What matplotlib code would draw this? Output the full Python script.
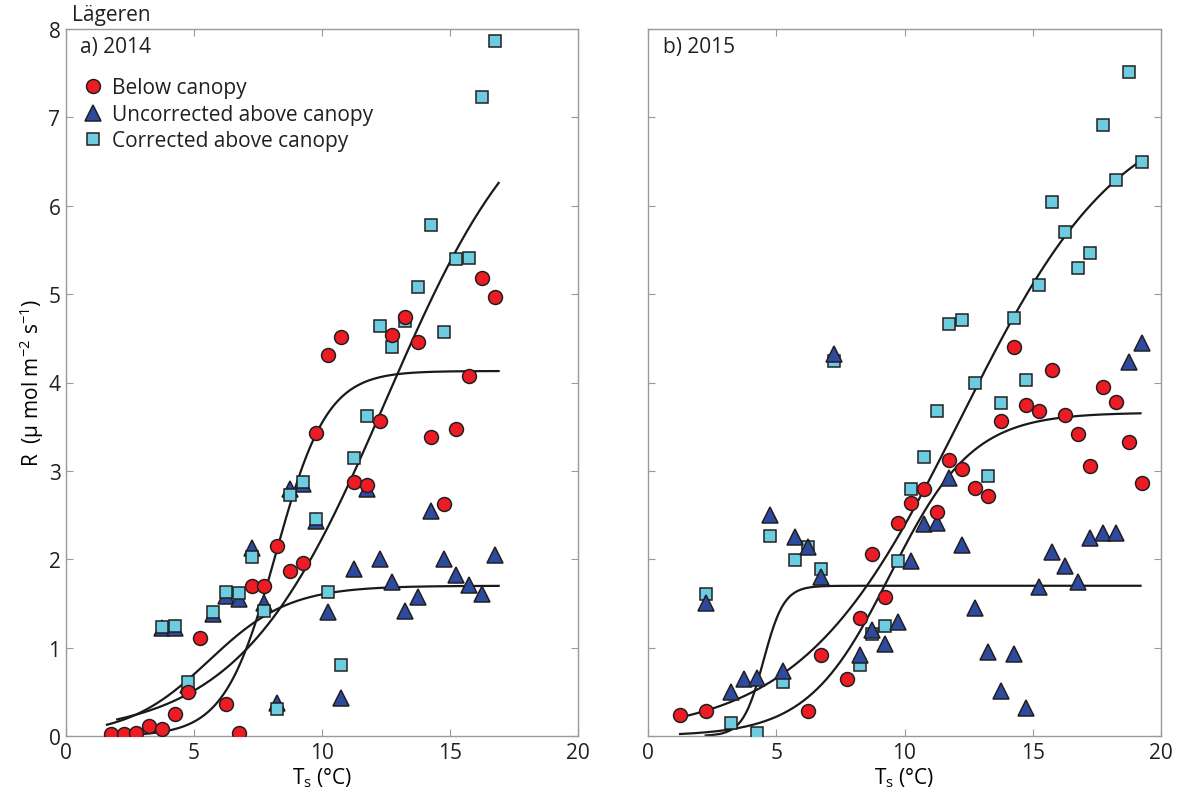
import numpy as np
import matplotlib
matplotlib.use("Agg")
import matplotlib.pyplot as plt

plt.rcParams['font.family'] = ['Open Sans', 'DejaVu Sans']
plt.rcParams['mathtext.fontset'] = 'custom'
plt.rcParams['mathtext.rm'] = 'Open Sans'
plt.rcParams['mathtext.it'] = 'Open Sans'
plt.rcParams['text.color'] = '#231f20'

# 2014 soil respiration vs soil temperature
t14_below = [1.75, 2.25, 2.75, 3.25, 3.75, 4.25, 4.75, 5.25, 6.25, 6.75, 7.25, 7.75, 8.25, 8.75, 9.25,
             9.75, 10.25, 10.75, 11.25, 11.75, 12.25, 12.75, 13.25, 13.75, 14.25, 14.75, 15.25, 15.75,
             16.25, 16.75]
r14_below = [0.02, 0.02, 0.03, 0.11, 0.08, 0.25, 0.50, 1.11, 0.36, 0.03, 1.70, 1.70, 2.15, 1.87, 1.96,
             3.43, 4.31, 4.51, 2.87, 2.84, 3.57, 4.54, 4.74, 4.46, 3.38, 2.63, 3.47, 4.07, 5.18, 4.97]

t14_above = [3.75, 4.25, 4.75, 5.75, 6.25, 6.75, 7.25, 7.75, 8.25, 8.75, 9.25, 9.75, 10.25, 10.75,
             11.25, 11.75, 12.25, 12.75, 13.25, 13.75, 14.25, 14.75, 15.25, 15.75, 16.25, 16.75]
r14_uncorr = [1.22, 1.22, 0.58, 1.38, 1.58, 1.55, 2.13, 1.50, 0.37, 2.80, 2.85, 2.43, 1.40, 0.43,
              1.89, 2.80, 2.00, 1.74, 1.41, 1.57, 2.55, 2.00, 1.82, 1.71, 1.61, 2.05]
r14_corr = [1.23, 1.24, 0.61, 1.40, 1.63, 1.62, 2.03, 1.41, 0.30, 2.73, 2.87, 2.46, 1.63, 0.80,
            3.15, 3.62, 4.64, 4.40, 4.70, 5.08, 5.78, 4.57, 5.40, 5.41, 7.23, 7.86]

# 2015
t15_below = [1.25, 2.25, 6.25, 6.75, 7.75, 8.25, 8.75, 9.25, 9.75, 10.25, 10.75, 11.25, 11.75, 12.25,
             12.75, 13.25, 13.75, 14.25, 14.75, 15.25, 15.75, 16.25, 16.75, 17.25, 17.75, 18.25,
             18.75, 19.25]
r15_below = [0.24, 0.28, 0.28, 0.92, 0.64, 1.33, 2.06, 1.57, 2.41, 2.64, 2.80, 2.53, 3.12, 3.02,
             2.81, 2.72, 3.57, 4.40, 3.74, 3.68, 4.14, 3.63, 3.42, 3.05, 3.95, 3.78, 3.33, 2.86]

t15_uncorr = [2.25, 3.25, 3.75, 4.25, 4.75, 5.25, 5.75, 6.25, 6.75, 7.25, 8.25, 8.75, 9.25, 9.75,
              10.25, 10.75, 11.25, 11.75, 12.25, 12.75, 13.25, 13.75, 14.25, 14.75, 15.25, 15.75,
              16.25, 16.75, 17.25, 17.75, 18.25, 18.75, 19.25]
r15_uncorr = [1.50, 0.50, 0.64, 0.66, 2.50, 0.74, 2.25, 2.14, 1.80, 4.32, 0.92, 1.20, 1.04, 1.29,
              1.98, 2.40, 2.41, 2.92, 2.16, 1.45, 0.95, 0.51, 0.93, 0.32, 1.69, 2.08, 1.92, 1.74,
              2.24, 2.30, 2.30, 4.23, 4.45]

t15_corr = [2.25, 3.25, 4.25, 4.75, 5.25, 5.75, 6.25, 6.75, 7.25, 8.25, 8.75, 9.25, 9.75, 10.25,
            10.75, 11.25, 11.75, 12.25, 12.75, 13.25, 13.75, 14.25, 14.75, 15.25, 15.75, 16.25,
            16.75, 17.25, 17.75, 18.25, 18.75, 19.25]
r15_corr = [1.61, 0.15, 0.03, 2.26, 0.61, 1.99, 2.14, 1.89, 4.24, 0.80, 1.15, 1.24, 1.98, 2.80,
            3.16, 3.68, 4.66, 4.71, 3.99, 2.94, 3.77, 4.73, 4.03, 5.10, 6.04, 5.70, 5.29, 5.47,
            6.91, 6.29, 7.51, 6.50]

# logistic fits R = a / (1 + exp(-b (T - c))), with the temperature span of each fit
fit14_below = (4.13, 1.0, 8.2, 1.75, 16.9)
fit14_uncorr = (1.70, 0.633, 5.57, 1.6, 16.9)
fit14_corr = (7.6, 0.35, 12.5, 2.0, 16.9)
fit15_below = (3.66, 0.62, 9.45, 1.25, 19.2)
fit15_uncorr = (1.70, 2.5, 4.5, 2.25, 19.2)
fit15_corr = (7.2, 0.32, 12.2, 1.25, 19.25)

RED = '#ed1c24'
BLUE = '#2e4a9e'
CYAN = '#6dcde0'
EDGE = '#231f20'


def logistic_line(ax, fit):
    a, b, c, t0, t1 = fit
    t = np.linspace(t0, t1, 300)
    ax.plot(t, a / (1 + np.exp(-b * (t - c))), color='#1a1a1a', lw=1.6, zorder=2)


def style_axes(ax):
    ax.set_xlim(0, 20)
    ax.set_ylim(0, 8)
    ax.set_xticks([0, 5, 10, 15, 20])
    ax.set_yticks(range(9))
    ax.tick_params(direction='in', top=True, right=True, length=5, width=0.8,
                   color='#9a9a9a', labelsize=15, labelcolor='#231f20', pad=4)
    for s in ax.spines.values():
        s.set_color('#9a9a9a')
        s.set_linewidth(1.0)
    ax.set_xlabel(r'T$_{\rm s}$ (°C)', fontsize=15, labelpad=2)


fig = plt.figure(figsize=(11.82, 8.03), dpi=100)
ax1 = fig.add_axes([66 / 1182, 1 - 737 / 803, 512 / 1182, 707 / 803])
ax2 = fig.add_axes([648 / 1182, 1 - 737 / 803, 513 / 1182, 707 / 803])

# panel a: squares over triangles
for fit in (fit14_below, fit14_uncorr, fit14_corr):
    logistic_line(ax1, fit)
ax1.plot(t14_above, r14_uncorr, '^', ms=11.5, mfc=BLUE, mec=EDGE, mew=1.1, zorder=3,
         label='Uncorrected above canopy')
ax1.plot(t14_above, r14_corr, 's', ms=8, mfc=CYAN, mec=EDGE, mew=1.1, zorder=4,
         label='Corrected above canopy')
ax1.plot(t14_below, r14_below, 'o', ms=10, mfc=RED, mec=EDGE, mew=1.1, zorder=5,
         label='Below canopy')

# panel b: triangles over squares
for fit in (fit15_below, fit15_uncorr, fit15_corr):
    logistic_line(ax2, fit)
ax2.plot(t15_corr, r15_corr, 's', ms=8, mfc=CYAN, mec=EDGE, mew=1.1, zorder=3)
ax2.plot(t15_uncorr, r15_uncorr, '^', ms=11.5, mfc=BLUE, mec=EDGE, mew=1.1, zorder=4)
ax2.plot(t15_below, r15_below, 'o', ms=10, mfc=RED, mec=EDGE, mew=1.1, zorder=5)

style_axes(ax1)
style_axes(ax2)
ax2.tick_params(labelleft=False)

ax1.set_ylabel(r'R  ($\mathregular{\mu}$ mol m$^{-2}$ s$^{-1}$)', fontsize=15, labelpad=2)

handles, labels = ax1.get_legend_handles_labels()
order = [2, 0, 1]
ax1.legend([handles[i] for i in order], [labels[i] for i in order], loc='upper left',
           bbox_to_anchor=(0.0, 0.958), frameon=False, fontsize=15, handlelength=0.8,
           handletextpad=0.5, labelspacing=0.26, borderaxespad=0.5, numpoints=1)

ax1.text(0.027, 0.975, 'a) 2014', transform=ax1.transAxes, fontsize=15, va='center')
ax2.text(0.03, 0.975, 'b) 2015', transform=ax2.transAxes, fontsize=15, va='center')
fig.text(72 / 1182, 1 - 15 / 803, 'Lägeren', fontsize=15, va='center')

fig.savefig('out.png', dpi=100)
